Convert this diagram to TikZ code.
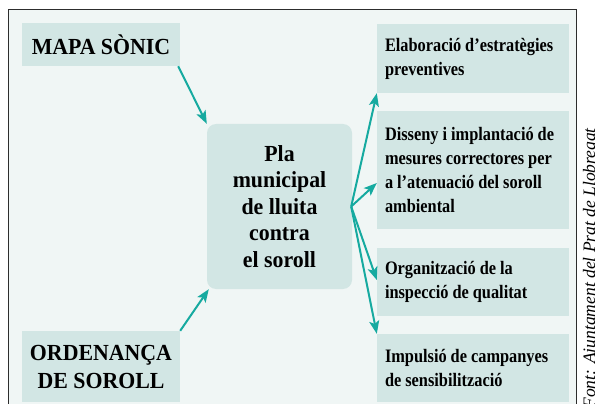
\documentclass[tikz,border=0pt]{standalone}
\usepackage{fontspec}
\setmainfont{Liberation Serif}
\newfontfamily\bigfont[FakeStretch=0.95]{Liberation Serif}
\newfontfamily\smallfont[FakeStretch=0.86]{Liberation Serif}
\usetikzlibrary{arrows.meta,calc}
\definecolor{bgc}{RGB}{240,246,245}
\definecolor{boxc}{RGB}{210,230,228}
\definecolor{arrc}{RGB}{22,170,160}
\definecolor{framec}{RGB}{45,45,45}
\newcommand\mybigsp{\spaceskip=5.2pt plus 1pt minus 1pt\relax}
\newcommand\mysmallsp{\spaceskip=4pt plus 1pt minus 1pt\relax}
\begin{document}
\begin{tikzpicture}[x=1pt,y=-1pt,
  box/.style={fill=boxc, draw=none, inner sep=0pt},
  leftbox/.style={box, minimum width=158pt, align=center,
    font=\bigfont\bfseries\fontsize{23}{28}\selectfont},
  centrebox/.style={box, minimum width=145pt, minimum height=165pt,
    rounded corners=9pt, align=center,
    font=\bigfont\bfseries\fontsize{23}{26.5}\selectfont},
  rightbox/.style={box, text width=176pt, inner xsep=8pt, align=left,
    font=\smallfont\bfseries\fontsize{19}{24}\selectfont},
  arr/.style={draw=arrc, line width=2pt,
    -{Stealth[length=13pt,width=10pt,inset=3pt]}},
  srcnote/.style={font=\itshape\fontsize{17.5}{19}\selectfont, inner sep=0pt}
]
\useasboundingbox (0,0) rectangle (595,404);
% frame
\draw[framec, line width=1pt, fill=bgc] (8,10) rectangle (576,430);

% left boxes
\node[leftbox, minimum height=43pt] (mapa) at (101,44.5) {\mybigsp MAPA SÒNIC};
\node[leftbox, minimum height=71pt] (ord) at (101,366.5) {\mybigsp ORDENANÇA\\DE SOROLL};

% central
\node[centrebox] (pla) at (279.5,206.5) {\mybigsp Pla\\municipal\\de lluita\\contra\\el soroll};

% right boxes
\node[rightbox, minimum height=69pt] (b1) at (473,58.5)
  {\mysmallsp Elaboració d’estratègies\\preventives};
\node[rightbox, minimum height=118pt] (b2) at (473,170)
  {\mysmallsp Disseny i implantació de\\mesures correctores per\\a l’atenuació del soroll\\ambiental};
\node[rightbox, minimum height=68pt] (b3) at (473,282)
  {\mysmallsp Organització de la\\inspecció de qualitat};
\node[rightbox, minimum height=68pt] (b4) at (473,368)
  {\mysmallsp Impulsió de campanyes\\de sensibilització};

% arrows
\draw[arr] ([xshift=-2pt]mapa.south east) -- (pla.north west);
\draw[arr] (ord.north east) -- ([xshift=2pt]pla.south west);
\draw[arr] ([xshift=-1pt]pla.east) -- (b1.south west);
\draw[arr] ([xshift=-1pt]pla.east) -- ([yshift=-13pt]b2.west);
\draw[arr] ([xshift=-1pt]pla.east) -- ([yshift=2pt]b3.west);
\draw[arr] ([xshift=-1pt]pla.east) -- (b4.north west);

% source
\node[srcnote, rotate=90, anchor=base east] (src) at (595,128)
  {Font: Ajuntament del Prat de Llobregat};
\end{tikzpicture}
\end{document}
